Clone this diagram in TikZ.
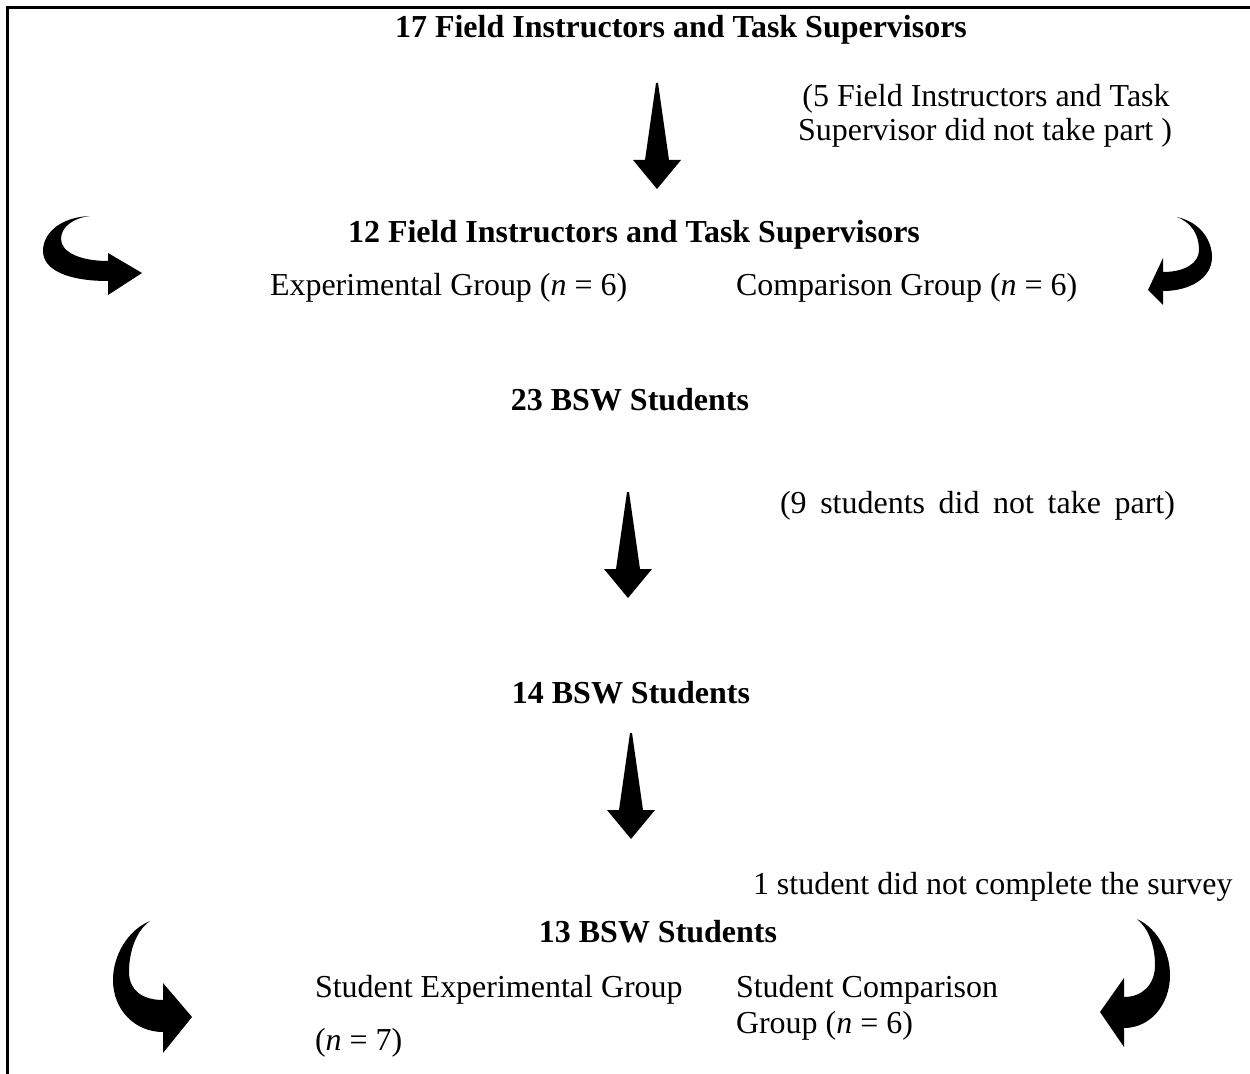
\documentclass[tikz,border=0pt]{standalone}
\usepackage{fontspec}
\setmainfont{Liberation Serif}
\begin{document}
\begin{tikzpicture}[x=0.02cm,y=-0.02cm,
  txt/.style={inner sep=0pt,outer sep=0pt,font=\fontsize{18.2}{20}\selectfont},
  hdr/.style={txt,font=\fontsize{18.2}{20}\selectfont\bfseries,anchor=base},
  lft/.style={txt,anchor=base west},
  ctr/.style={txt,anchor=base},
  blk/.style={fill=black,draw=none},
  downarrow/.pic={\fill[blk] (-1,0) -- (1,0) -- (12,77) -- (24,77) -- (0,106) -- (-24,77) -- (-12,77) -- cycle;}]
\useasboundingbox (0,0) rectangle (1250,1074);

% frame on the left and top edges
\draw[line width=1.7pt] (7.5,1074) -- (7.5,7.5) -- (1250,7.5);

% supervisors
\node[hdr] (fi17) at (681,38) {17 Field Instructors and Task Supervisors};
\node[ctr] (ex1a) at (986,107) {(5 Field Instructors and Task};
\node[ctr] (ex1b) at (985,141) {Supervisor did not take part )};
\node[hdr] (fi12) at (634,243) {12 Field Instructors and Task Supervisors};
\node[lft] (fexp) at (270,296) {Experimental Group (\textit{n} = 6)};
\node[lft] (fcmp) at (736,296) {Comparison Group (\textit{n} = 6)};

% students
\node[hdr] (st23) at (630,410) {23 BSW Students};
\node[lft] (ex2) at (780,513) {\hbox to 7.9cm{(9 students did not take part)}};
\node[hdr] (st14) at (631,703) {14 BSW Students};
\node[lft] (ex3) at (753,894) {1 student did not complete the survey};
\node[hdr] (st13) at (658,942) {13 BSW Students};
\node[lft] (sexp) at (315,997) {Student Experimental Group};
\node[lft] (sexpn) at (315,1050) {(\textit{n} = 7)};
\node[lft] (scmp) at (736,997) {Student Comparison};
\node[lft] (scmpn) at (736,1033) {Group (\textit{n} = 6)};

% straight downward arrows
\coordinate (a1) at (657,83);
\coordinate (a2) at (628,492);
\coordinate (a3) at (631,733);
\pic at (a1) {downarrow};
\pic at (a2) {downarrow};
\pic at (a3) {downarrow};

% curved arrows, upper pair
\fill[blk] (90,216) .. controls (62,217) and (43,232) .. (43,251)
  .. controls (43,270) and (68,281) .. (108,281)
  -- (108,295) -- (142,273) -- (108,253) -- (108,261)
  .. controls (80,261) and (61,252) .. (61,239)
  .. controls (61,227) and (73,218) .. (90,216) -- cycle;
\fill[blk] (1177,217) .. controls (1203,223) and (1212,243) .. (1212,257)
  .. controls (1212,278) and (1190,291) .. (1163,291)
  -- (1163,305) -- (1148,290) -- (1163,258) -- (1163,272)
  .. controls (1185,272) and (1199,263) .. (1199,250)
  .. controls (1199,235) and (1192,223) .. (1177,217) -- cycle;

% curved arrows, lower pair
\fill[blk] (150,921) .. controls (128,930) and (113,955) .. (113,980)
  .. controls (113,1010) and (135,1032) .. (163,1032)
  -- (163,1053) -- (192,1017) -- (163,983) -- (163,1000)
  .. controls (142,1000) and (129,990) .. (129,972)
  .. controls (129,950) and (137,930) .. (150,921) -- cycle;
\fill[blk] (1137,919) .. controls (1160,930) and (1170,955) .. (1170,975)
  .. controls (1170,1005) and (1150,1028) .. (1124,1028)
  -- (1124,1047) -- (1100,1012) -- (1124,978) -- (1124,997)
  .. controls (1142,997) and (1155,985) .. (1155,965)
  .. controls (1155,945) and (1148,928) .. (1137,919) -- cycle;
\end{tikzpicture}
\end{document}
